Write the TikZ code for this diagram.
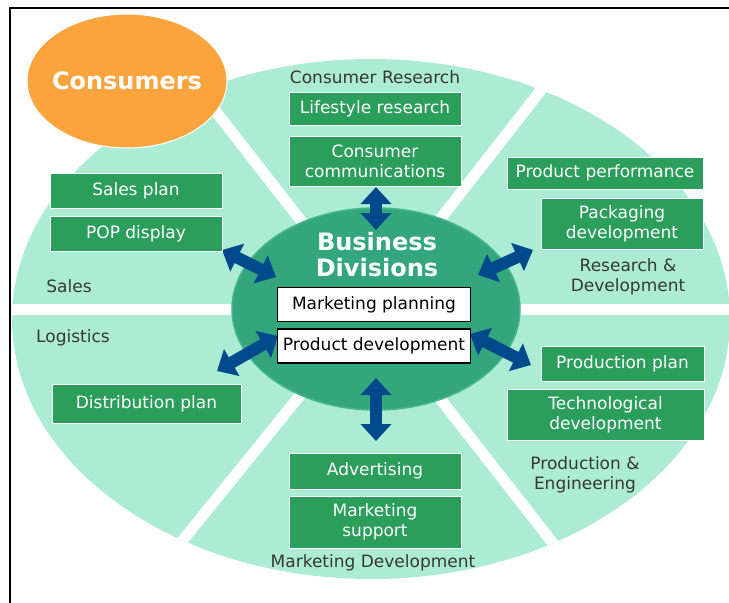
\documentclass[tikz,border=0pt]{standalone}
\usepackage{fontspec}
\setmainfont{DejaVu Sans}
\usetikzlibrary{shapes, arrows.meta, positioning}
\definecolor{sectorgreen}{RGB}{172,236,213}
\definecolor{boxgreen}{RGB}{43,158,92}
\definecolor{hubgreen}{RGB}{52,166,125}
\definecolor{hubedge}{RGB}{70,182,140}
\definecolor{consorange}{RGB}{251,164,62}
\definecolor{arrowblue}{RGB}{0,74,140}
\definecolor{labelgray}{RGB}{55,55,55}

\begin{document}
\begin{tikzpicture}[x=1pt, y=1pt, >={Triangle[width=30pt,length=17pt]},
    gbox/.style={draw=white, line width=1pt, fill=boxgreen, text=white, align=center,
      font=\fontsize{17}{20}\selectfont, inner sep=1pt, minimum width=172pt},
    wbox/.style={draw=black, line width=1.5pt, fill=white, inner sep=1pt,
      font=\fontsize{17}{20}\selectfont, minimum width=193pt, minimum height=34pt},
    area/.style={text=labelgray, align=center, font=\fontsize{17}{20}\selectfont},
    link/.style={<->, line width=12pt, draw=arrowblue}]
    \useasboundingbox (0,0) rectangle (729,-603);

    \fill[sectorgreen] (371,-319) ellipse [x radius=359, y radius=260];
    \begin{scope}
      \clip (371,-319) ellipse [x radius=359, y radius=260];
      \foreach \a in {0,52,128,180,231,308}
        \draw[white, line width=11pt] (370,-309) -- ++(\a:450);
    \end{scope}

    \node[ellipse, fill=consorange, draw=white, line width=1pt, minimum width=200pt, minimum height=134pt,
      inner xsep=-30pt, text=white, font=\fontsize{24}{28}\selectfont\bfseries] (consumers) at (127,-81) {Consumers};

    \node[ellipse, fill=hubgreen, draw=hubedge, line width=1.5pt, minimum width=288pt, minimum height=202pt] (hub) at (376,-309) {};
    \node[text=white, align=center, font=\fontsize{24}{26}\selectfont\bfseries] (title) at (377,-255) {Business\\Divisions};

    \coordinate (topA) at (376,-187);
    \coordinate (topB) at (376,-230);
    \coordinate (botA) at (376,-378);
    \coordinate (botB) at (376,-441);
    \coordinate (ulA) at (222,-250);
    \coordinate (ulB) at (276,-277);
    \coordinate (urA) at (478,-275);
    \coordinate (urB) at (533,-250);
    \coordinate (llA) at (217,-371);
    \coordinate (llB) at (278,-336);
    \coordinate (lrA) at (470,-334);
    \coordinate (lrB) at (531,-365);
    \draw[link] (topA) -- (topB);
    \draw[link] (botA) -- (botB);
    \draw[link] (ulA) -- (ulB);
    \draw[link] (urA) -- (urB);
    \draw[link] (llA) -- (llB);
    \draw[link] (lrA) -- (lrB);

    \node[wbox] (mplan) at (374,-304.5) {Marketing planning};
    \node[wbox, below=6pt of mplan] (pdev) {Product development};

    \node[area] (consres) at (375,-77) {Consumer Research};
    \node[gbox, minimum height=33pt] (lifestyle) at (375,-108.5) {Lifestyle research};
    \node[gbox, minimum height=50pt, below=10pt of lifestyle] (conscomm) {Consumer\\communications};

    \node[gbox, minimum width=196pt, minimum height=32pt] (prodperf) at (605,-173) {Product performance};
    \node[gbox, minimum width=162pt, minimum height=51pt, below=8pt of prodperf.south east, anchor=north east] (packdev) {Packaging\\development};
    \node[area] (resdev) at (628,-277) {Research \&\\Development};

    \node[gbox, minimum height=35pt] (salesplan) at (136,-190.5) {Sales plan};
    \node[gbox, minimum height=35pt, below=7pt of salesplan] (popdisp) {POP display};
    \node[area] (sales) at (69,-286) {Sales};

    \node[area] (logistics) at (73,-338) {Logistics};
    \node[gbox, minimum width=189pt, minimum height=39pt] (distplan) at (146.5,-403.5) {Distribution plan};

    \node[gbox, minimum width=163pt, minimum height=35pt] (prodplan) at (622.5,-363.5) {Production plan};
    \node[gbox, minimum width=197pt, minimum height=51pt, below=7pt of prodplan.south east, anchor=north east] (techdev) {Technological\\development};
    \node[area] (prodeng) at (585,-475) {Production \&\\Engineering};

    \node[gbox, minimum height=36pt] (advert) at (375,-471) {Advertising};
    \node[gbox, minimum height=52pt, below=6pt of advert] (mksupp) {Marketing\\support};
    \node[area] (mkdev) at (373,-563) {Marketing Development};

    \draw[line width=2pt] (10,-603) -- (10,-8) -- (729,-8);
\end{tikzpicture}
\end{document}
